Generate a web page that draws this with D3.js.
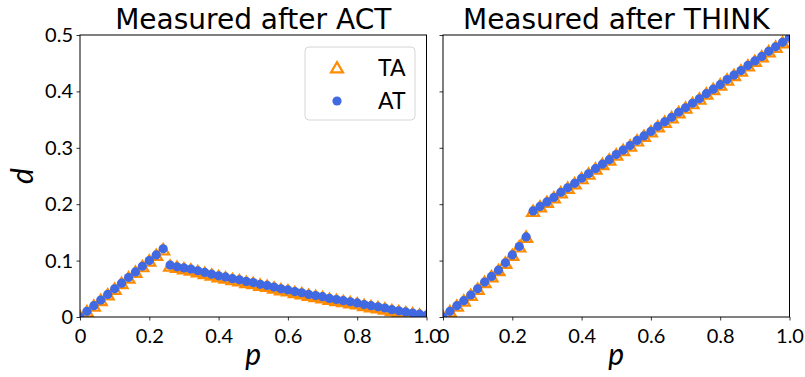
<!DOCTYPE html>
<html>
<head>
<meta charset="utf-8">
<script src="https://cdn.jsdelivr.net/npm/d3@7"></script>
<style>
  body { margin: 0; background: #fff; }
  svg text { fill: #000; }
</style>
</head>
<body>
<svg id="chart" width="805" height="377"></svg>
<script>
const pValues = [
  0, 0.02, 0.04, 0.06, 0.08, 0.1, 0.12, 0.14, 0.16, 0.18, 0.2, 0.22, 0.24,
  0.26, 0.28, 0.3, 0.32, 0.34, 0.36, 0.38, 0.4, 0.42, 0.44, 0.46, 0.48, 0.5,
  0.52, 0.54, 0.56, 0.58, 0.6, 0.62, 0.64, 0.66, 0.68, 0.7, 0.72, 0.74, 0.76,
  0.78, 0.8, 0.82, 0.84, 0.86, 0.88, 0.9, 0.92, 0.94, 0.96, 0.98, 1.0,
]

// measured after ACT
const actTA = [
  0, 0.009, 0.019, 0.029, 0.039, 0.049, 0.059, 0.069, 0.079, 0.089, 0.099, 0.109, 0.119,
  0.090, 0.088, 0.085, 0.083, 0.080, 0.077, 0.074, 0.071, 0.069, 0.066, 0.064, 0.061, 0.059,
  0.056, 0.054, 0.051, 0.048, 0.046, 0.043, 0.041, 0.038, 0.036, 0.034, 0.031, 0.029, 0.027,
  0.025, 0.023, 0.020, 0.018, 0.016, 0.014, 0.011, 0.009, 0.007, 0.005, 0.003, 0.001,
]
const actAT = [
  0, 0.010, 0.020, 0.030, 0.040, 0.050, 0.060, 0.070, 0.080, 0.090, 0.100, 0.110, 0.121,
  0.092, 0.089, 0.087, 0.085, 0.082, 0.079, 0.076, 0.073, 0.071, 0.068, 0.066, 0.063, 0.061,
  0.058, 0.056, 0.053, 0.050, 0.048, 0.045, 0.043, 0.040, 0.038, 0.036, 0.033, 0.031, 0.029,
  0.027, 0.025, 0.022, 0.020, 0.018, 0.016, 0.013, 0.011, 0.009, 0.007, 0.005, 0.003,
]

// measured after THINK
const thinkTA = [
  0, 0.009, 0.019, 0.028, 0.038, 0.049, 0.061, 0.071, 0.082, 0.095, 0.109, 0.124, 0.141,
  0.187, 0.195, 0.203, 0.211, 0.220, 0.228, 0.236, 0.245, 0.253, 0.262, 0.270, 0.278, 0.287,
  0.295, 0.303, 0.312, 0.320, 0.328, 0.337, 0.345, 0.353, 0.362, 0.370, 0.378, 0.386, 0.395,
  0.403, 0.411, 0.420, 0.428, 0.436, 0.445, 0.453, 0.461, 0.470, 0.478, 0.486, 0.495,
]
const thinkAT = [
  0, 0.010, 0.020, 0.029, 0.039, 0.050, 0.062, 0.072, 0.083, 0.096, 0.110, 0.125, 0.142,
  0.188, 0.196, 0.204, 0.212, 0.221, 0.229, 0.237, 0.246, 0.254, 0.263, 0.271, 0.279, 0.288,
  0.296, 0.304, 0.313, 0.321, 0.329, 0.338, 0.346, 0.354, 0.363, 0.371, 0.379, 0.387, 0.396,
  0.404, 0.412, 0.421, 0.429, 0.437, 0.446, 0.454, 0.462, 0.471, 0.479, 0.487, 0.496,
]

const panels = [
  { title: 'Measured after ACT', ta: actTA, at: actAT, left: 80, showY: true },
  { title: 'Measured after THINK', ta: thinkTA, at: thinkAT, left: 443, showY: false },
]
const xTicks = [0, 0.2, 0.4, 0.6, 0.8, 1.0]
const yTicks = [0, 0.1, 0.2, 0.3, 0.4, 0.5]

const plotW = 346.5
const plotTop = 35
const plotBottom = 317
const orange = '#ff8c00'
const blue = '#4169e1'
const tickFont = 'Lato, "Open Sans", sans-serif'

const svg = d3.select('#chart')

const y = d3.scaleLinear().domain([0, 0.5]).range([plotBottom, plotTop])
const triangle = d3.symbol().type(d3.symbolTriangle).size(62)

panels.forEach((panel, i) => {
  const x = d3.scaleLinear().domain([0, 1]).range([panel.left, panel.left + plotW])
  const g = svg.append('g')

  svg.append('clipPath').attr('id', 'clip' + i)
    .append('rect')
    .attr('x', panel.left).attr('y', plotTop)
    .attr('width', plotW).attr('height', plotBottom - plotTop)

  const marks = g.append('g').attr('clip-path', `url(#clip${i})`)

  marks.selectAll('path.ta')
    .data(pValues)
    .join('path')
    .attr('class', 'ta')
    .attr('d', triangle)
    .attr('transform', (d, j) => `translate(${x(d)},${y(panel.ta[j]) + 1})`)
    .attr('fill', 'none')
    .attr('stroke', orange)
    .attr('stroke-width', 2.2)

  marks.selectAll('circle')
    .data(pValues)
    .join('circle')
    .attr('cx', (d) => x(d))
    .attr('cy', (d, j) => y(panel.at[j]))
    .attr('r', 4.6)
    .attr('fill', blue)

  // axes
  const xAxis = g.append('g')
    .attr('transform', `translate(0,${plotBottom})`)
    .call(d3.axisBottom(x).tickValues(xTicks).tickSize(3.5).tickPadding(3)
      .tickFormat((d) => (d === 0 ? '0' : d3.format('.1f')(d))))
  const yAxis = g.append('g')
    .attr('transform', `translate(${panel.left},0)`)
    .call(d3.axisLeft(y).tickValues(yTicks).tickSize(3.5).tickPadding(3.5)
      .tickFormat((d) => (panel.showY ? (d === 0 ? '0' : d3.format('.1f')(d)) : '')))

  ;[xAxis, yAxis].forEach((a) => {
    a.select('.domain').remove()
    a.selectAll('line').attr('stroke', '#000').attr('stroke-width', 0.8)
    a.selectAll('text')
      .attr('font-family', tickFont)
      .attr('font-size', 20)
      .attr('fill', '#000')
  })
  xAxis.selectAll('text').attr('dy', '0.98em')

  g.append('rect')
    .attr('x', panel.left).attr('y', plotTop)
    .attr('width', plotW).attr('height', plotBottom - plotTop)
    .attr('fill', 'none')
    .attr('stroke', '#000')
    .attr('stroke-width', 1)

  g.append('text')
    .attr('x', panel.left + plotW / 2)
    .attr('y', 29)
    .attr('text-anchor', 'middle')
    .attr('font-family', '"DejaVu Sans", sans-serif')
    .attr('font-size', 28)
    .text(panel.title)

  g.append('text')
    .attr('x', panel.left + plotW / 2)
    .attr('y', 365)
    .attr('text-anchor', 'middle')
    .attr('font-family', tickFont)
    .attr('font-style', 'italic')
    .attr('font-size', 30)
    .text('p')
})

svg.append('text')
  .attr('transform', 'translate(33,176) rotate(-90)')
  .attr('text-anchor', 'middle')
  .attr('font-family', tickFont)
  .attr('font-style', 'italic')
  .attr('font-size', 30)
  .text('d')

// legend
const legend = svg.append('g')
legend.append('rect')
  .attr('x', 305).attr('y', 47)
  .attr('width', 110).attr('height', 73)
  .attr('rx', 4)
  .attr('fill', '#fff')
  .attr('fill-opacity', 0.8)
  .attr('stroke', '#d6d6d6')
  .attr('stroke-width', 1)

legend.append('path')
  .attr('d', triangle)
  .attr('transform', 'translate(337,69)')
  .attr('fill', 'none')
  .attr('stroke', orange)
  .attr('stroke-width', 2.2)
legend.append('circle')
  .attr('cx', 337).attr('cy', 101).attr('r', 4.6)
  .attr('fill', blue)

legend.selectAll('text.lbl')
  .data(['TA', 'AT'])
  .join('text')
  .attr('class', 'lbl')
  .attr('x', 378)
  .attr('y', (d, j) => 76 + j * 33)
  .attr('font-family', tickFont)
  .attr('font-size', 23)
  .text((d) => d)
</script>
</body>
</html>
